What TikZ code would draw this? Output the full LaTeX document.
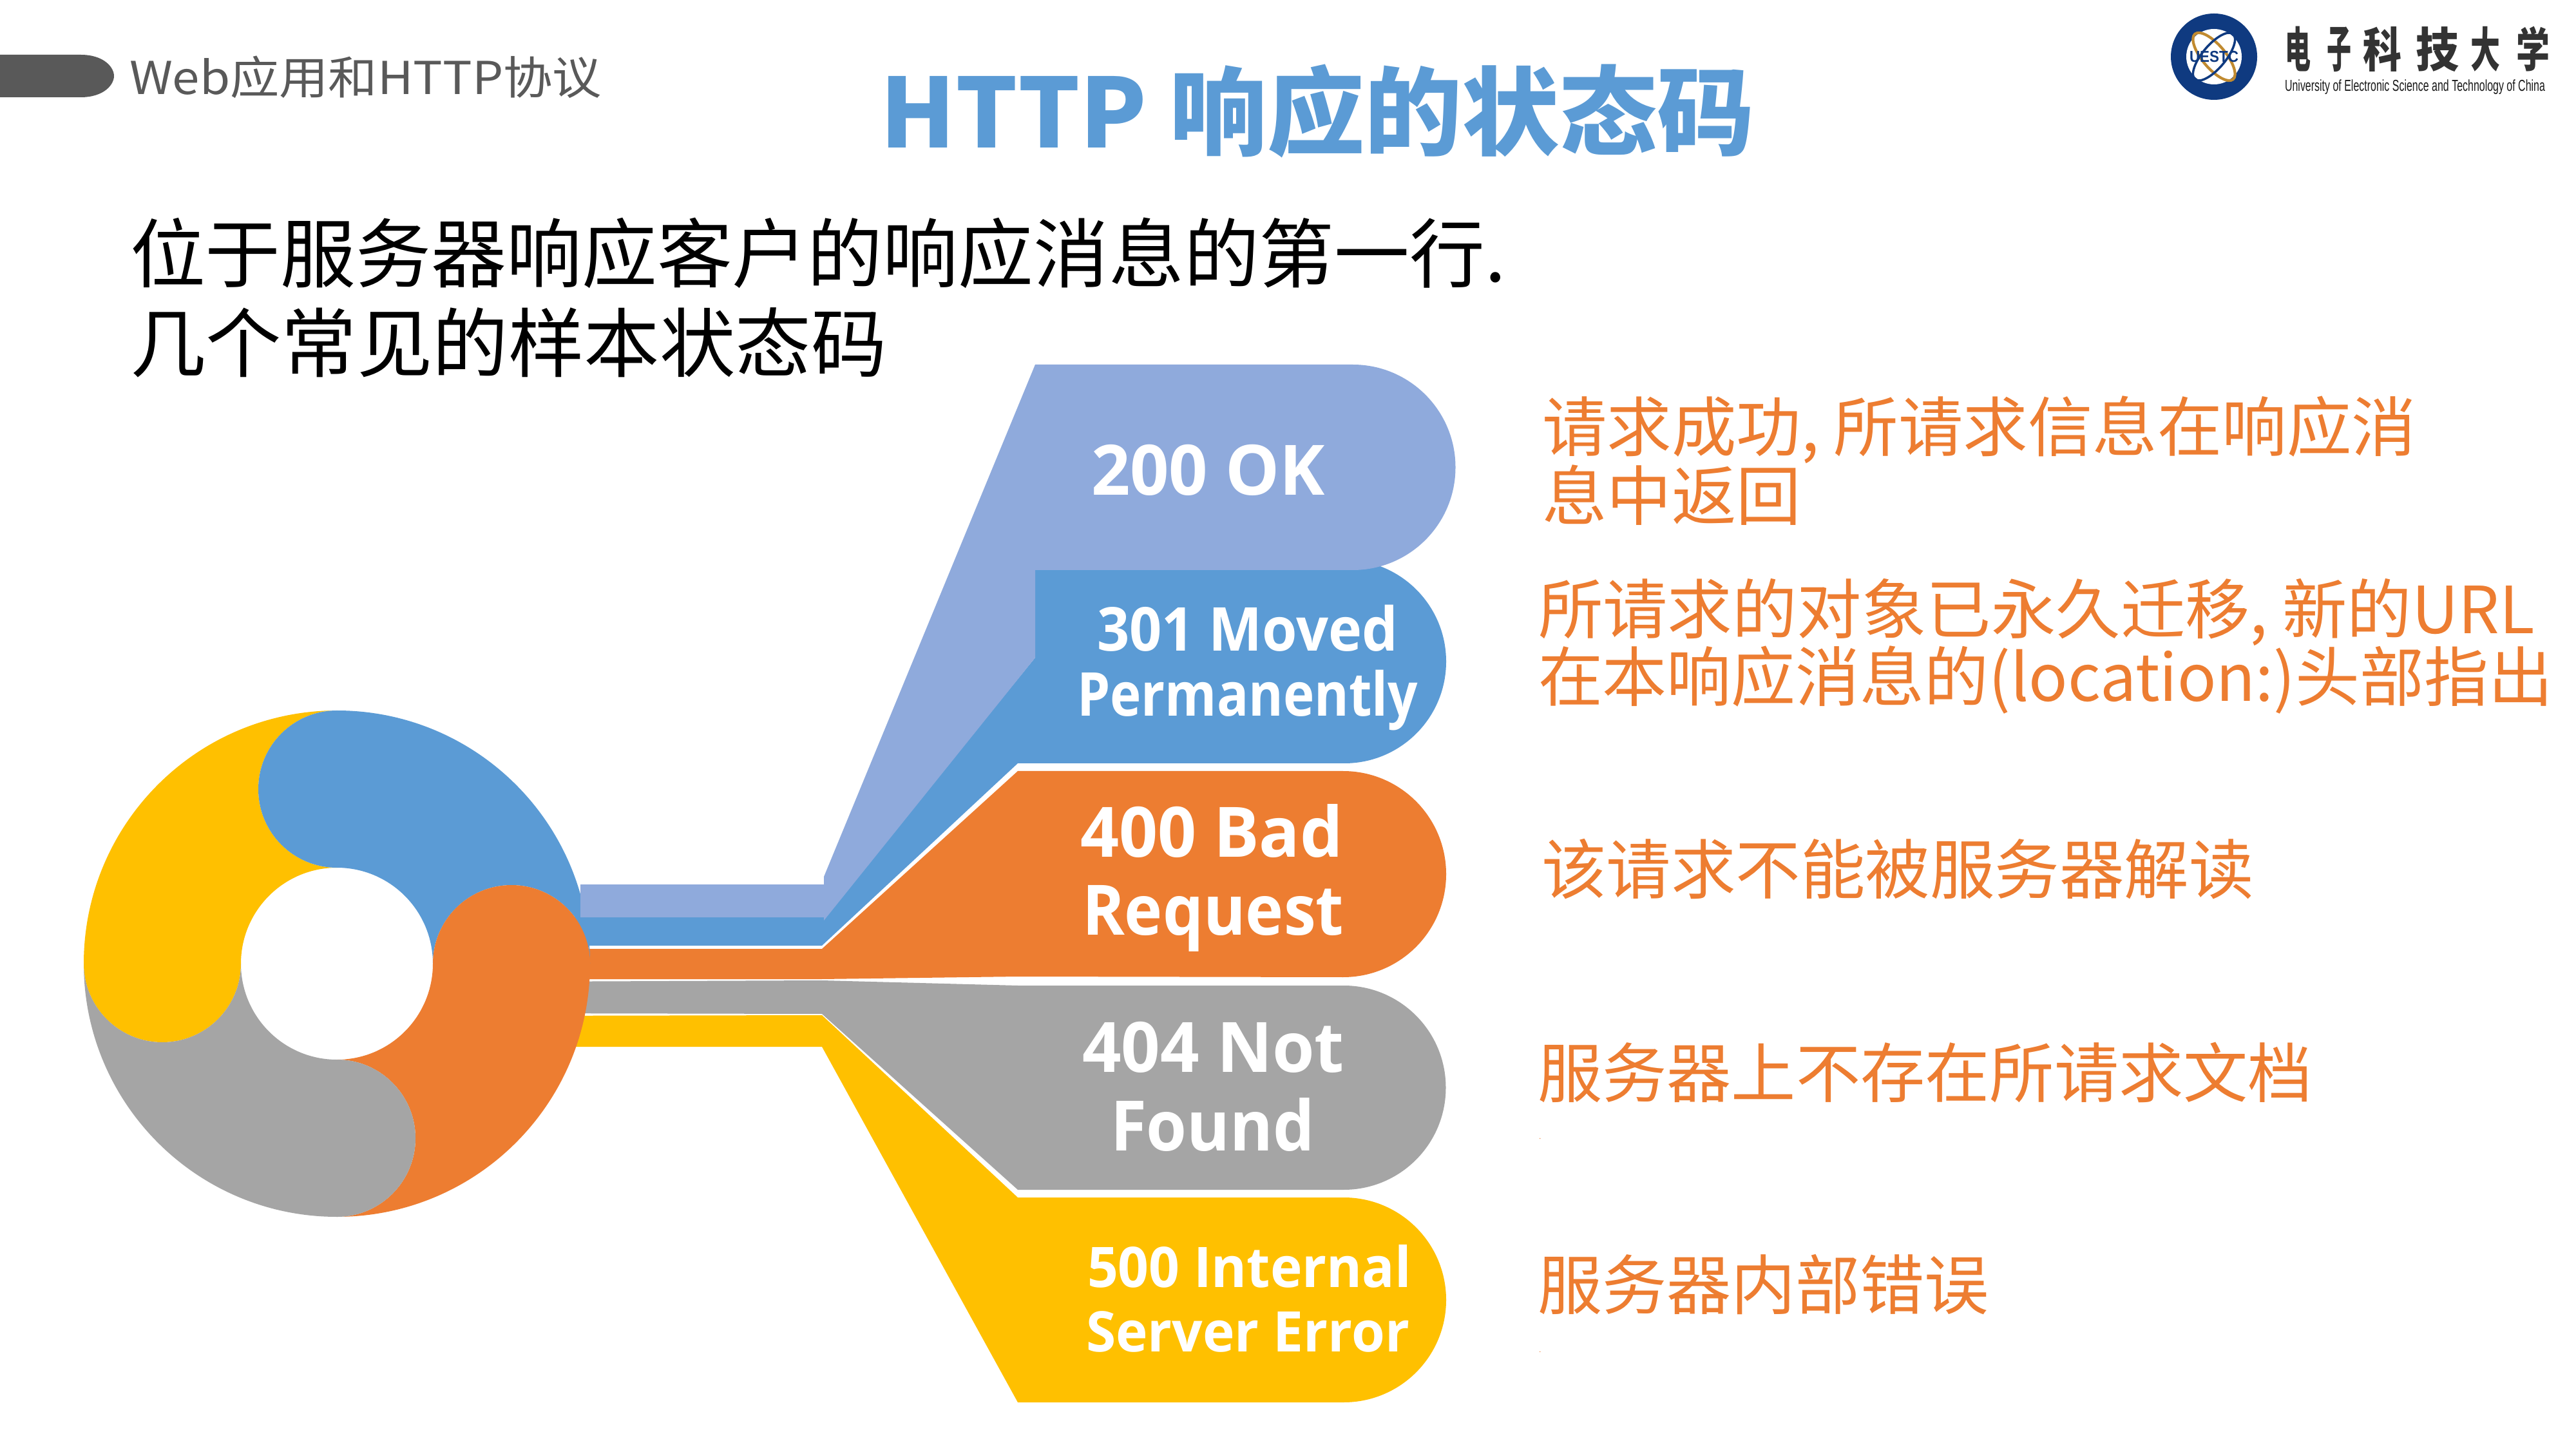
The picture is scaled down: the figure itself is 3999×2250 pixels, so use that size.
\documentclass[tikz,border=0pt]{standalone}
\usepackage{graphicx}
\usepackage{fontspec}
\setmainfont{Noto Sans CJK SC}
\newfontfamily\lab{Open Sans}
\newfontfamily\logolat{Liberation Sans}
\newlength\pxu \setlength\pxu{0.01cm}
\newcommand\fitw[2]{\resizebox{#1\pxu}{\height}{#2}}
\newcommand\fs[1]{\fontsize{#1}{#1}\selectfont}
\definecolor{cy}{HTML}{FFC000}
\definecolor{cb}{HTML}{5B9BD5}
\definecolor{co}{HTML}{ED7D31}
\definecolor{cg}{HTML}{A5A5A5}
\definecolor{cl}{HTML}{8FAADC}
\definecolor{cd}{HTML}{595959}
\definecolor{navy}{HTML}{0F3A80}
\definecolor{gold}{HTML}{C08A30}
\tikzset{
  txt/.style={inner sep=0pt,outer sep=0pt,anchor=base west},
  lbl/.style={txt,text=white},
  note/.style={txt,text=co,font=\fs{28.7}},
}
\begin{document}
\begin{tikzpicture}[x=0.01cm,y=0.01cm]
\useasboundingbox (0,0) rectangle (3999,2250);
\fill[white] (0,0) rectangle (3999,2250);
% header pill
\fill[cd] (0,2165) -- (125,2165) .. controls (162,2165) and (177,2145) .. (177,2132) .. controls (177,2119) and (162,2099) .. (125,2099) -- (0,2099) -- cycle;
\node[txt,text=cd,font=\fs{20}] (hdr) at (201,2103) {\fitw{733}{Web应用和HTTP协议}};
\node[txt,text=cb,font=\fs{42.4}\bfseries] (title) at (1366,2020) {\fitw{1358}{HTTP 响应的状态码}};
\node[txt,font=\fs{33.3}] (l1) at (202,1812) {\fitw{2136}{位于服务器响应客户的响应消息的第一行.}};
\node[txt,font=\fs{33.3}] (l2) at (202,1673) {\fitw{1175}{几个常见的样本状态码}};
% blue pill and band
\fill[cb] (800,782) -- (1276,782) -- (1580,1065) -- (2087,1065) arc (-90:90:158) -- (1607,1381) -- (1607,1229) -- (1279,826) -- (800,826) -- cycle;
% orange
\fill[co] (800,777) -- (1276,777) -- (1580,1053) -- (2085,1053) arc (90:-90:160) -- (1580,734) -- (1276,730) -- (800,730) -- cycle;
% gray
\fill[cg] (800,726) -- (1276,728) -- (1580,720) -- (2086,720) arc (90:-90:158.5) -- (1580,403) -- (1276,676) -- (800,677) -- cycle;
% yellow
\fill[cy] (800,673) -- (1276,674) -- (1580,391) -- (2086,391) arc (90:-90:159) -- (1580,73) -- (1276,625) -- (800,625) -- cycle;
% ring
\foreach \k/\c in {0/cy,1/cb,2/co,3/cg}{
  \begin{scope}[shift={(523,754)},rotate=-90*\k]
    \fill[\c] (0,393) arc (90:180:393) arc (180:360:122) arc (180:90:149) arc (-90:-270:122) -- cycle;
  \end{scope}
}
% light blue pill
\fill[cl] (901,877) -- (1279,877) -- (1279,889) -- (1607,1684) -- (2100,1684) arc (90:-90:159.5) -- (1607,1365) -- (1607,1229) -- (1279,821) -- (1279,826) -- (901,826) -- cycle;
% labels
\node[lbl,font=\lab\bfseries\fs{30.7}] (a) at (1694,1481) {\fitw{363}{200 OK}};
\node[lbl,font=\lab\bfseries\fs{26.7}] (b1) at (1703,1239) {\fitw{467}{301 Moved}};
\node[lbl,font=\lab\bfseries\fs{26.7}] (b2) at (1672,1139) {\fitw{529}{Permanently}};
\node[lbl,font=\lab\bfseries\fs{30.7}] (c1) at (1677,920) {\fitw{408}{400 Bad}};
\node[lbl,font=\lab\bfseries\fs{30.7}] (c2) at (1680,799) {\fitw{406}{Request}};
\node[lbl,font=\lab\bfseries\fs{30.7}] (d1) at (1680,586) {\fitw{407}{404 Not}};
\node[lbl,font=\lab\bfseries\fs{30.7}] (d2) at (1724,464) {\fitw{317}{Found}};
\node[lbl,font=\lab\bfseries\fs{24.7}] (e1) at (1688,252) {\fitw{503}{500 Internal}};
\node[lbl,font=\lab\bfseries\fs{24.7}] (e2) at (1686,152) {\fitw{502}{Server Error}};
% notes
\node[note] (n1) at (2394,1549) {\fitw{1357}{请求成功, 所请求信息在响应消}};
\node[note] (n2) at (2394,1442) {\fitw{402}{息中返回}};
\node[note] (n3) at (2388,1266) {\fitw{1547}{所请求的对象已永久迁移, 新的URL}};
\node[note] (n4) at (2388,1161) {\fitw{1575}{在本响应消息的(location:)头部指出}};
\node[note] (n5) at (2393,863) {\fitw{1106}{该请求不能被服务器解读}};
\node[note] (n6) at (2387,547) {\fitw{1203}{服务器上不存在所请求文档}};
\node[note] (n7) at (2387,218) {\fitw{701}{服务器内部错误}};
\node[txt,text=co,font=\fs{3}] (p1) at (2389,482) {.};
\node[txt,text=co,font=\fs{3}] (p2) at (2389,151) {.};
% logo
\fill[navy] (3437,2162) circle (67);
\fill[white] (3437,2162) circle (43);
\draw[gold,line width=1.2pt] (3437,2162) ellipse [x radius=46,y radius=18,rotate=-50];
\draw[navy,line width=1pt] (3437,2162) ellipse [x radius=46,y radius=18,rotate=50];
\node[inner sep=0pt,text=navy,font=\logolat\bfseries\fs{7}] (ue) at (3437,2162) {\fitw{76}{UESTC}};
\foreach \ch/\xx/\ww/\nm in {电/3547/40/lg1,子/3612/38/lg2,科/3668/60/lg3,技/3750/67/lg4,大/3835/46/lg5,学/3906/52/lg6}{
  \node[inner sep=0pt,anchor=south west,text=black!80,font=\fs{20}\bfseries] (\nm) at (\xx,2138) {\resizebox*{\ww\pxu}{70\pxu}{\ch}};
}
\node[txt,text=black!90,font=\logolat\fs{7}] (ue2) at (3547,2108) {\fitw{404}{University of Electronic Science and Technology of China}};
\end{tikzpicture}
\end{document}
